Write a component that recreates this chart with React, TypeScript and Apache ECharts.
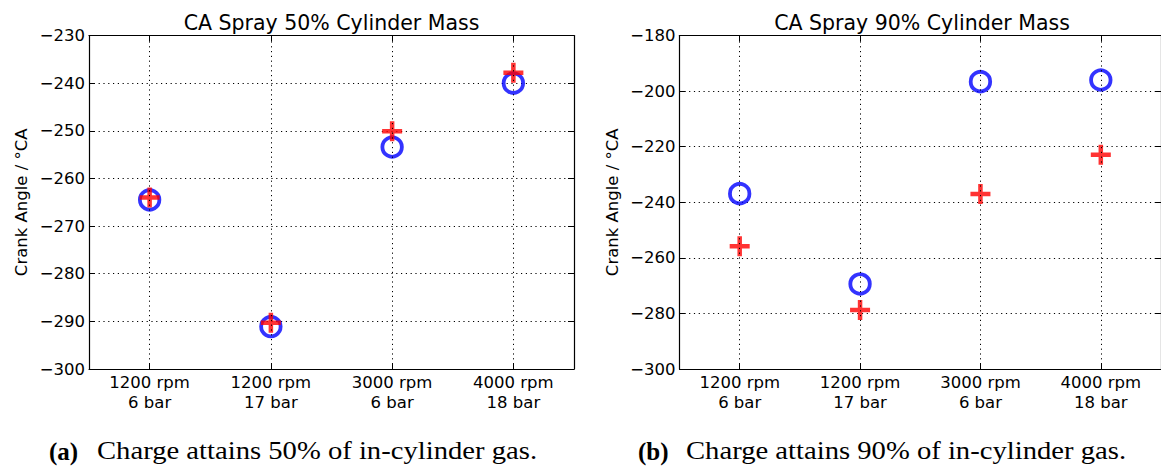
import React, { useEffect, useRef } from "react";
import * as echarts from "echarts";

const categories = ["1200 rpm\n6 bar", "1200 rpm\n17 bar", "3000 rpm\n6 bar", "4000 rpm\n18 bar"];

// Left panel: 50% cylinder mass
const circle50 = [-264.5, -291.1, -253.4, -240.0];
const plus50 = [-264.0, -290.3, -250.1, -237.8];
const yMin50 = -300;
const yMax50 = -230;
const yStep50 = 10;

// Right panel: 90% cylinder mass
const circle90 = [-236.9, -269.4, -196.6, -196.0];
const plus90 = [-255.8, -278.8, -237.0, -222.9];
const yMin90 = -300;
const yMax90 = -180;
const yStep90 = 20;

const titles = ["CA Spray 50% Cylinder Mass", "CA Spray 90% Cylinder Mass"];
const captionTags = ["(a)", "(b)"];
const captions = ["Charge attains 50% of in-cylinder gas.", "Charge attains 90% of in-cylinder gas."];
const yName = "Crank Angle / °CA";

const SANS = "DejaVu Sans";
const SERIF = "Liberation Serif";
const PLUS = "path://M3.875,0H6.125V3.875H10V6.125H6.125V10H3.875V6.125H0V3.875H3.875Z";
const GRID_DASH = [1.2, 3.6];

export default function App() {
  const ref = useRef<HTMLDivElement>(null);

  useEffect(() => {
    if (!ref.current) return;
    const chart = echarts.init(ref.current, null, { renderer: "svg" });

    const grids = [
      { left: 89, top: 35.5, width: 485, height: 333.5 },
      { left: 679.5, top: 35.5, width: 485, height: 333.5 },
    ];
    const ranges = [
      [yMin50, yMax50, yStep50],
      [yMin90, yMax90, yStep90],
    ];
    const axisLineStyle = { color: "#000", width: 1.2 };
    const minus = (v: number) => String(v).replace("-", "\u2212");

    const xAxes: any[] = [];
    const yAxes: any[] = [];
    grids.forEach((_, i) => {
      xAxes.push({
        type: "category",
        gridIndex: i,
        data: categories,
        position: "bottom",
        boundaryGap: true,
        axisLine: { show: true, onZero: false, lineStyle: axisLineStyle },
        axisTick: { show: true, inside: true, alignWithLabel: true, length: 6, lineStyle: { color: "#000" } },
        axisLabel: { color: "#000", fontFamily: SANS, fontSize: 16.5, lineHeight: 19.5, margin: 4 },
        splitLine: { show: false },
      });
      xAxes.push({
        type: "category",
        gridIndex: i,
        data: categories,
        position: "top",
        boundaryGap: true,
        axisLine: { show: true, onZero: false, lineStyle: axisLineStyle },
        axisTick: { show: true, inside: true, alignWithLabel: true, length: 6, lineStyle: { color: "#000" } },
        axisLabel: { show: false },
        splitLine: { show: false },
      });
      const [mn, mx, st] = ranges[i];
      yAxes.push({
        type: "value",
        gridIndex: i,
        position: "left",
        min: mn,
        max: mx,
        interval: st,
        name: yName,
        nameLocation: "middle",
        nameGap: 59,
        nameTextStyle: { color: "#000", fontFamily: SANS, fontSize: 16.5 },
        axisLine: { show: true, onZero: false, lineStyle: axisLineStyle },
        axisTick: { show: true, inside: true, length: 6, lineStyle: { color: "#000" } },
        axisLabel: { color: "#000", fontFamily: SANS, fontSize: 16.5, margin: 4, formatter: minus },
        splitLine: { show: true, lineStyle: { color: "#000", width: 1, type: GRID_DASH } },
      });
      yAxes.push({
        type: "value",
        gridIndex: i,
        position: "right",
        min: mn,
        max: mx,
        interval: st,
        axisLine: { show: true, onZero: false, lineStyle: axisLineStyle },
        axisTick: { show: true, inside: true, length: 6, lineStyle: { color: "#000" } },
        axisLabel: { show: false },
        splitLine: { show: false },
      });
    });

    const vGrid = {
      silent: true,
      symbol: ["none", "none"],
      label: { show: false },
      lineStyle: { color: "#000", width: 1, type: GRID_DASH },
      data: categories.map((c) => ({ xAxis: c })),
    };

    const circleSeries = (data: number[], i: number) => ({
      type: "scatter",
      xAxisIndex: i * 2,
      yAxisIndex: i * 2,
      data,
      symbol: "circle",
      symbolSize: 19.5,
      itemStyle: { color: "rgba(0,0,0,0)", borderColor: "#0000ff", borderWidth: 3.8 },
      markLine: vGrid,
      z: 3,
    });
    const plusSeries = (data: number[], i: number) => ({
      type: "scatter",
      xAxisIndex: i * 2,
      yAxisIndex: i * 2,
      data,
      symbol: PLUS,
      symbolSize: 20,
      itemStyle: { color: "#ff0000", borderWidth: 0 },
      z: 4,
    });

    const graphics: any[] = [];
    grids.forEach((g, i) => {
      graphics.push({
        type: "text",
        x: g.left + g.width / 2,
        y: 22.5,
        style: {
          text: titles[i],
          fill: "#000",
          font: `20.5px "${SANS}"`,
          align: "center",
          verticalAlign: "middle",
        },
      });
    });
    const capLeft = [49, 638];
    const capTextLeft = [97, 686];
    const capWidth = 441;
    const capFont = 25;
    const capScale = capWidth / (15.386 * capFont);
    capLeft.forEach((x, i) => {
      graphics.push({
        type: "text",
        x,
        y: 451,
        style: {
          text: captionTags[i],
          fill: "#000",
          font: `bold ${capFont}px "${SERIF}"`,
          align: "left",
          verticalAlign: "middle",
        },
      });
      graphics.push({
        type: "text",
        x: capTextLeft[i],
        y: 451,
        scaleX: capScale,
        style: {
          text: captions[i],
          fill: "#000",
          font: `${capFont}px "${SERIF}"`,
          align: "left",
          verticalAlign: "middle",
        },
      });
    });

    chart.setOption({
      animation: false,
      backgroundColor: "#fff",
      textStyle: { fontFamily: SANS },
      grid: grids,
      xAxis: xAxes,
      yAxis: yAxes,
      series: [
        circleSeries(circle50, 0),
        plusSeries(plus50, 0),
        circleSeries(circle90, 1),
        plusSeries(plus90, 1),
      ],
      graphic: graphics,
    });

    return () => chart.dispose();
  }, []);

  return (
    <div
      ref={ref}
      style={{ position: "absolute", left: 0, top: 0, width: 1161, height: 466, background: "#fff" }}
    />
  );
}
